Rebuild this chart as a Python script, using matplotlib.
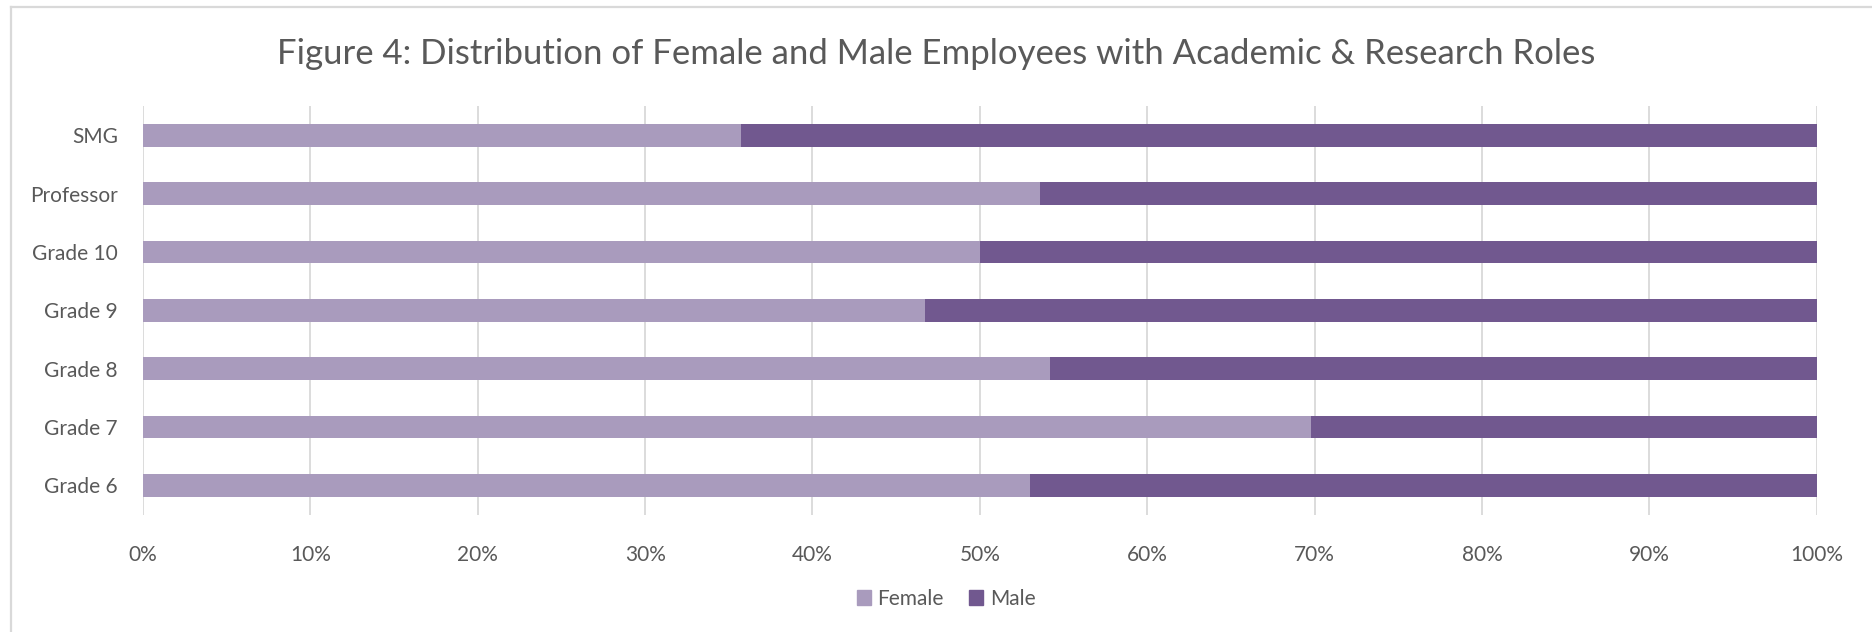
import numpy as np
import matplotlib
matplotlib.use('Agg')
import matplotlib.pyplot as plt
from matplotlib.ticker import PercentFormatter
from matplotlib.patches import Patch
from matplotlib.lines import Line2D

# --- Data ---
categorias = ['Grade 6', 'Grade 7', 'Grade 8', 'Grade 9', 'Grade 10', 'Professor', 'SMG']
mujeres = [53.0, 69.8, 54.2, 46.7, 50.0, 53.6, 35.7]
hombres = [47.0, 30.2, 45.8, 53.3, 50.0, 46.4, 64.3]

color_mujeres = '#A99BBD'
color_hombres = '#71588F'
color_texto = '#595959'
color_rejilla = '#D9D9D9'

plt.rcParams['font.family'] = ['Lato', 'DejaVu Sans']

fig = plt.figure(figsize=(18.72, 6.32), dpi=100)
ax = fig.add_axes([143 / 1872, 1 - 514.5 / 632, 1673.7 / 1872, 408.5 / 632])

y = np.arange(len(categorias))
ax.barh(y, mujeres, height=0.39, color=color_mujeres, label='Female', zorder=3)
ax.barh(y, hombres, left=mujeres, height=0.39, color=color_hombres, label='Male', zorder=3)

ax.set_xlim(0, 100)
ax.set_ylim(-0.5, len(categorias) - 0.5)
ax.set_xticks(np.arange(0, 101, 10))
ax.xaxis.set_major_formatter(PercentFormatter(decimals=0))
ax.set_yticks(y)
ax.set_yticklabels(categorias)
ax.tick_params(axis='both', length=0, labelsize=15, colors=color_texto)
ax.tick_params(axis='x', pad=22)
ax.tick_params(axis='y', pad=18)
ax.grid(axis='x', color=color_rejilla, linewidth=1.3, zorder=0)
for s in ax.spines.values():
    s.set_visible(False)

fig.text(0.5, 1 - 54 / 632, 'Figure 4: Distribution of Female and Male Employees with Academic & Research Roles',
         ha='center', va='center', fontsize=25, color=color_texto)

# legend
handles = [Patch(color=color_mujeres, label='Female'), Patch(color=color_hombres, label='Male')]
fig.legend(handles=handles, loc='center', bbox_to_anchor=(946 / 1872, 1 - 599 / 632), ncol=2,
           frameon=False, fontsize=15, labelcolor=color_texto, handlelength=0.7, handleheight=0.7,
           handletextpad=0.3, columnspacing=1.2)

# chart border (top and left visible)
fig.add_artist(Line2D([11 / 1872, 1], [1 - 6.5 / 632] * 2, color=color_rejilla, linewidth=1.6))
fig.add_artist(Line2D([11 / 1872] * 2, [0, 1 - 6.5 / 632], color=color_rejilla, linewidth=1.6))

fig.savefig('out.png', dpi=100, facecolor='white')
